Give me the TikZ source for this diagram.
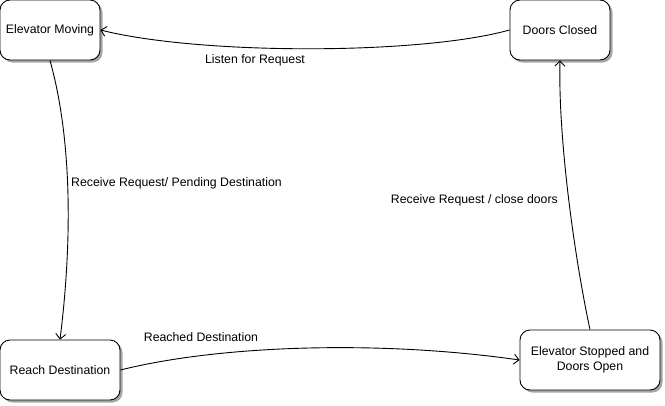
\documentclass[tikz,border=0pt]{standalone}
\usepackage{fontspec}
\setmainfont{Liberation Sans}
\usepackage{tikz}
\usetikzlibrary{arrows.meta, shadows}

\begin{document}
\begin{tikzpicture}[x=1pt, y=-1pt, >={Straight Barb[length=5pt, width=10pt]}]
  \tikzstyle{state} = [rectangle, draw=black, line width=0.9pt, fill=white, rounded corners=10pt, minimum height=60pt, align=center, font=\fontsize{12.3}{15}\selectfont, drop shadow={shadow xshift=2.5pt, shadow yshift=-2.5pt, fill=black!35, opacity=1}]
  \tikzstyle{trans} = [->, draw=black, line width=0.9pt]
  \tikzstyle{lbl} = [font=\fontsize{12.3}{15}\selectfont, inner sep=1pt]

  \useasboundingbox (0,0) rectangle (665,405);

  % Top row
  \node [state, minimum width=100pt] (moving) at (50,30) {Elevator Moving};
  \node [state, minimum width=100pt] (closed) at (560,30) {Doors Closed};

  % Bottom row
  \node [state, minimum width=120pt] (reach) at (60,370) {Reach Destination};
  \node [state, minimum width=140pt] (stopped) at (590,360) {Elevator Stopped and\\Doors Open};

  % Transitions
  \draw [trans] (closed.west) .. controls (420,55) and (200,55) .. (moving.east);
  \node [lbl] (listen) at (255,60) {Listen for Request};

  \draw [trans] (moving.south) .. controls (75,150) and (70,260) .. (reach.north);
  \node [lbl, anchor=west] (pending) at (70,183) {Receive Request/ Pending Destination};

  \draw [trans] (reach.east) .. controls (220,345) and (380,340) .. (stopped.west);
  \node [lbl] (reached) at (201,337) {Reached Destination};

  \draw [trans] (stopped.north) .. controls (575,260) and (558,140) .. (closed.south);
  \node [lbl, anchor=east] (closedoors) at (559,200) {Receive Request / close doors};
\end{tikzpicture}
\end{document}
